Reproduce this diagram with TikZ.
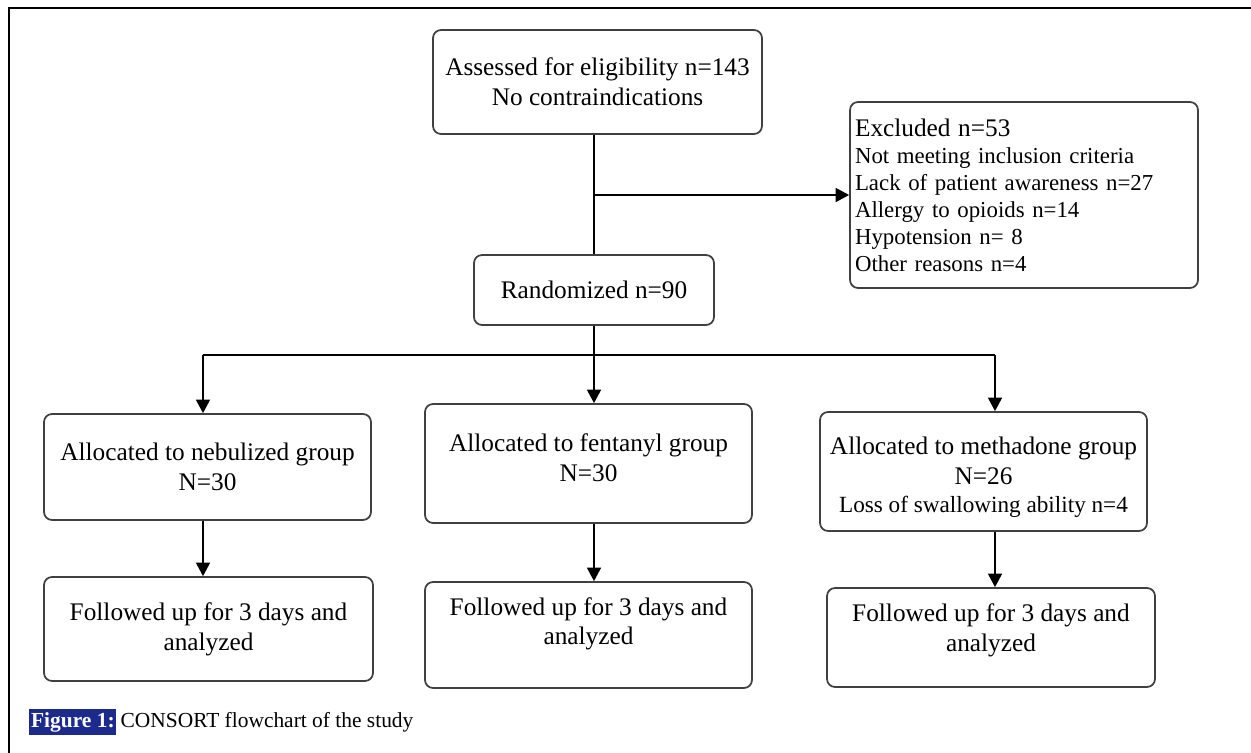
\documentclass[tikz,border=0pt]{standalone}
\usepackage{fontspec}
\setmainfont{Liberation Serif}
\usetikzlibrary{positioning,arrows.meta}
\definecolor{capblue}{RGB}{28,42,140}
% tabular with extra space above (#1) and below (#2) to move the text inside a box
\newcommand{\padtext}[3]{\begin{tabular}{@{}c@{}}\noalign{\vskip #1}#3\\[#2]\end{tabular}}

\begin{document}
\begin{tikzpicture}[
    x=0.02cm, y=-0.02cm,
    >={Triangle[length=0.27cm,width=0.28cm]},
    flowbox/.style={rectangle, draw=black!75, line width=1pt, rounded corners=0.16cm, align=center, inner sep=0pt, font=\fontsize{14.4}{17}\selectfont},
    flowline/.style={line width=0.9pt},
    ]
    \useasboundingbox (0,0) rectangle (1251,753);
    \draw[line width=1.4pt] (9,753) |- (1251,8);
    %Nodes
    \node[flowbox, minimum width=6.58cm, minimum height=2.08cm] (assessed) at (597.5,82) {Assessed for eligibility n=143\\No contraindications};
    \node[flowbox, minimum width=6.96cm, minimum height=3.72cm, align=left, text width=6.76cm, inner xsep=0.1cm, font=\fontsize{13}{15.4}\selectfont] (excluded) at (1024,195) {{\fontsize{14.4}{17}\selectfont Excluded n=53}\\Not meeting inclusion criteria\\Lack of patient awareness n=27\\Allergy to opioids n=14\\Hypotension n= 8\\Other reasons n=4};
    \node[flowbox, minimum width=4.8cm, minimum height=1.4cm] (randomized) at (594,290) {Randomized n=90};
    \node[flowbox, minimum width=6.54cm, minimum height=2.12cm] (nebulized) at (207.5,467) {Allocated to nebulized group\\N=30};
    \node[flowbox, minimum width=6.54cm, minimum height=2.38cm] (fentanyl) at (588.5,463.5) {\padtext{0pt}{3.4pt}{Allocated to fentanyl group\\N=30}};
    \node[flowbox, minimum width=6.54cm, minimum height=2.38cm] (methadone) at (983.5,471.5) {\padtext{6.5pt}{0pt}{Allocated to methadone group\\N=26\\[-1pt]{\fontsize{13.2}{15}\selectfont Loss of swallowing ability n=4}}};
    \node[flowbox, minimum width=6.58cm, minimum height=2.08cm] (follneb) at (208.5,629) {Followed up for 3 days and\\analyzed};
    \node[flowbox, minimum width=6.54cm, minimum height=2.12cm] (follfen) at (588.5,635) {\padtext{0pt}{12.5pt}{Followed up for 3 days and\\analyzed}};
    \node[flowbox, minimum width=6.56cm, minimum height=1.98cm] (follmeth) at (991,637.5) {\padtext{0pt}{8pt}{Followed up for 3 days and\\analyzed}};
    \node[fill=capblue, text=white, font=\fontsize{12.2}{14}\selectfont\bfseries, inner xsep=1pt, inner ysep=0pt, minimum height=0.52cm, anchor=west] (figlabel) at (29,722) {Figure 1:};
    \node[right=2pt of figlabel, inner sep=0pt, font=\fontsize{12.2}{14}\selectfont] (caption) {CONSORT flowchart of the study};
    \coordinate (split) at (594,195);
    \coordinate (hub) at (594,355);
    \coordinate (lft) at (203,355);
    \coordinate (rgt) at (995,355);

    %Lines
    \draw[flowline] (randomized.north |- assessed.south) -- (randomized.north);
    \draw[flowline, ->] (split) -- (split -| excluded.west);
    \draw[flowline] (randomized.south) -- (hub);
    \draw[flowline] (lft) -- (rgt);
    \draw[flowline, ->] (lft) -- (lft |- nebulized.north);
    \draw[flowline, ->] (hub) -- (hub |- fentanyl.north);
    \draw[flowline, ->] (rgt) -- (rgt |- methadone.north);
    \draw[flowline, ->] (nebulized.south -| lft) -- (lft |- follneb.north);
    \draw[flowline, ->] (fentanyl.south -| hub) -- (hub |- follfen.north);
    \draw[flowline, ->] (methadone.south -| rgt) -- (rgt |- follmeth.north);
\end{tikzpicture}
\end{document}
